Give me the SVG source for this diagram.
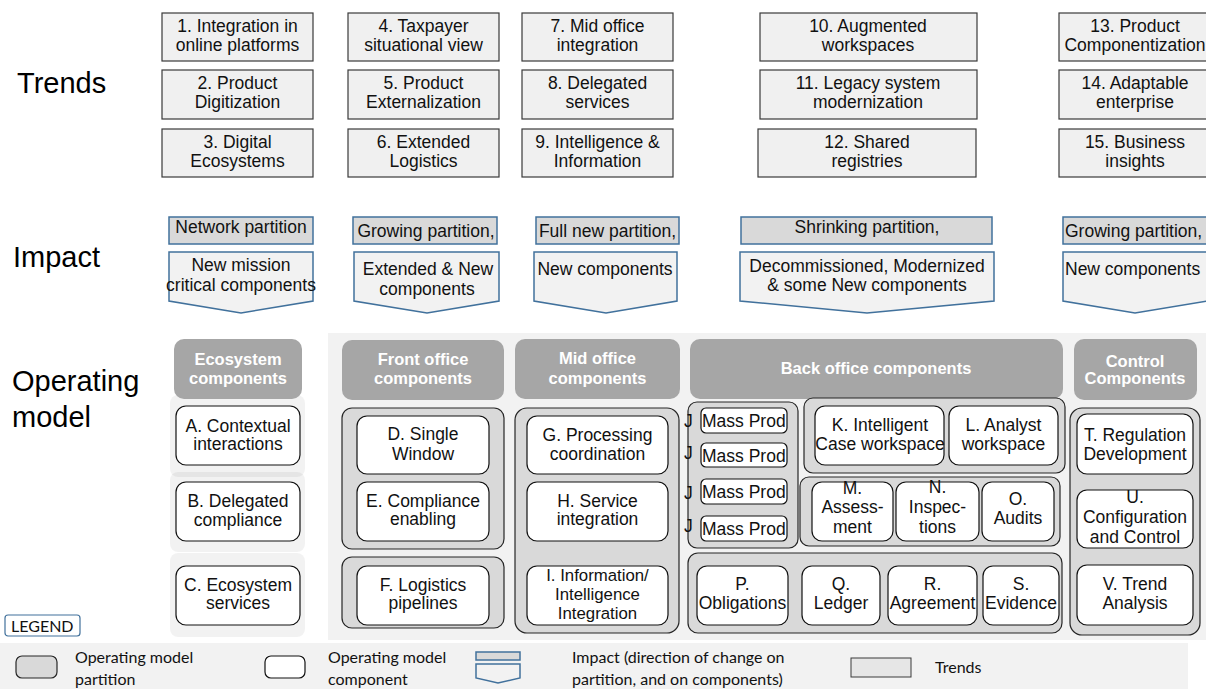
<svg xmlns="http://www.w3.org/2000/svg" width="1206" height="689" viewBox="0 0 1206 689">
<style>
text{font-family:"Liberation Sans",Arial,sans-serif;font-size:17.5px;fill:#111;text-anchor:middle}
.lbl{font-size:29px;text-anchor:start;fill:#000}
.trend{fill:#f0f0f0;stroke:#3a3a3a;stroke-width:1.2}
.imh{fill:#d9d9d9;stroke:#41719c;stroke-width:1.5}
.imp{fill:#f2f2f2;stroke:#41719c;stroke-width:1.5}
.hdr{fill:#a6a6a6}
.ht{font-weight:bold;fill:#fff;font-size:16.5px}
.part{fill:#d9d9d9;stroke:#262626;stroke-width:1.2}
.comp{fill:#fff;stroke:#111;stroke-width:1.2}
.seg{fill:#000;fill-opacity:0.05}
.lg{font-family:Lato,"Open Sans",sans-serif;font-size:16px;text-anchor:start;fill:#111}
.st{text-anchor:start}
.sm{font-size:16.8px}
</style>

<!-- section labels -->
<text class="lbl" x="17" y="93">Trends</text>
<text class="lbl" x="13" y="267">Impact</text>
<text class="lbl" x="12" y="391">Operating</text>
<text class="lbl" x="12" y="427">model</text>

<!-- backgrounds -->
<rect x="328" y="333" width="878" height="307" fill="#f2f2f2"/>
<rect class="seg" x="170" y="395" width="135" height="82" rx="8"/>
<rect class="seg" x="170" y="472" width="135" height="80" rx="8"/>
<rect class="seg" x="170" y="553" width="135" height="84" rx="8"/>
<rect x="0" y="643" width="1188" height="46" fill="#f2f2f2"/>

<!-- Trends -->
<g id="trend1"><rect class="trend" x="162" y="13" width="151" height="48"/><text x="237.5" y="32">1. Integration in</text><text x="237.5" y="51">online platforms</text></g>
<g id="trend2"><rect class="trend" x="162" y="70" width="151" height="49"/><text x="237.5" y="89">2. Product</text><text x="237.5" y="108">Digitization</text></g>
<g id="trend3"><rect class="trend" x="162" y="129" width="151" height="48"/><text x="237.5" y="148">3. Digital</text><text x="237.5" y="167">Ecosystems</text></g>
<g id="trend4"><rect class="trend" x="348" y="13" width="151" height="48"/><text x="423.5" y="32">4. Taxpayer</text><text x="423.5" y="51">situational view</text></g>
<g id="trend5"><rect class="trend" x="348" y="70" width="151" height="49"/><text x="423.5" y="89">5. Product</text><text x="423.5" y="108">Externalization</text></g>
<g id="trend6"><rect class="trend" x="348" y="129" width="151" height="48"/><text x="423.5" y="148">6. Extended</text><text x="423.5" y="167">Logistics</text></g>
<g id="trend7"><rect class="trend" x="522" y="13" width="151" height="48"/><text x="597.5" y="32">7. Mid office</text><text x="597.5" y="51">integration</text></g>
<g id="trend8"><rect class="trend" x="522" y="70" width="151" height="49"/><text x="597.5" y="89">8. Delegated</text><text x="597.5" y="108">services</text></g>
<g id="trend9"><rect class="trend" x="522" y="129" width="151" height="48"/><text x="597.5" y="148">9. Intelligence &amp;</text><text x="597.5" y="167">Information</text></g>
<g id="trend10"><rect class="trend" x="760" y="13" width="217" height="48"/><text x="868" y="32">10. Augmented</text><text x="868" y="51">workspaces</text></g>
<g id="trend11"><rect class="trend" x="760" y="70" width="217" height="49"/><text x="868" y="89">11. Legacy system</text><text x="868" y="108">modernization</text></g>
<g id="trend12"><rect class="trend" x="758" y="129" width="218" height="48"/><text x="867" y="148">12. Shared</text><text x="867" y="167">registries</text></g>
<g id="trend13"><rect class="trend" x="1059" y="13" width="152" height="48"/><text x="1135" y="32">13. Product</text><text x="1135" y="51">Componentization</text></g>
<g id="trend14"><rect class="trend" x="1059" y="70" width="152" height="49"/><text x="1135" y="89">14. Adaptable</text><text x="1135" y="108">enterprise</text></g>
<g id="trend15"><rect class="trend" x="1059" y="129" width="152" height="48"/><text x="1135" y="148">15. Business</text><text x="1135" y="167">insights</text></g>

<!-- Impact -->
<g id="impact1"><rect class="imh" x="169" y="217" width="144" height="27"/><text x="241" y="233">Network partition</text>
<path class="imp" d="M169 252H313V301L241 313L169 301Z"/><text x="241" y="271">New mission</text><text x="241" y="291">critical components</text></g>
<g id="impact2"><rect class="imh" x="353" y="217" width="144" height="27"/><text x="426" y="237">Growing partition,</text>
<path class="imp" d="M354 252H499V301L427 313L354 301Z"/><text x="428" y="275">Extended &amp; New</text><text x="427" y="295">components</text></g>
<g id="impact3"><rect class="imh" x="536" y="217" width="143" height="27"/><text x="607.5" y="237">Full new partition,</text>
<path class="imp" d="M534 252H677V301L606 313L534 301Z"/><text x="605" y="275">New components</text></g>
<g id="impact4"><rect class="imh" x="741" y="217" width="251" height="27"/><text x="867" y="233">Shrinking partition,</text>
<path class="imp" d="M740 252H994V301L867 313L740 301Z"/><text x="867" y="272">Decommissioned, Modernized</text><text x="867" y="291">&amp; some New components</text></g>
<g id="impact5"><rect class="imh" x="1063" y="217" width="148" height="27"/><text class="st" x="1065" y="237">Growing partition,</text>
<path class="imp" d="M1063 252H1207V301L1135 313L1063 301Z"/><text class="st" x="1065" y="275">New components</text></g>

<!-- Headers -->
<g id="hdr-ecosystem"><rect class="hdr" x="174" y="339" width="128" height="60" rx="10"/><text class="ht" x="238" y="365">Ecosystem</text><text class="ht" x="238" y="384">components</text></g>
<g id="hdr-front"><rect class="hdr" x="342" y="340" width="162" height="60" rx="10"/><text class="ht" x="423" y="365">Front office</text><text class="ht" x="423" y="384">components</text></g>
<g id="hdr-mid"><rect class="hdr" x="515" y="339" width="165" height="60" rx="10"/><text class="ht" x="597.5" y="364">Mid office</text><text class="ht" x="597.5" y="384">components</text></g>
<g id="hdr-back"><rect class="hdr" x="690" y="339" width="373" height="60" rx="10"/><text class="ht" x="876" y="374">Back office components</text></g>
<g id="hdr-control"><rect class="hdr" x="1074" y="339" width="123" height="61" rx="10"/><text class="ht" x="1135" y="367">Control</text><text class="ht" x="1135" y="384">Components</text></g>

<!-- Partitions -->
<g id="part-front1"><rect class="part" x="342" y="408" width="162" height="141" rx="10"/></g>
<g id="part-front2"><rect class="part" x="342" y="557" width="162" height="71" rx="10"/></g>
<g id="part-mid"><rect class="part" x="515" y="408" width="164" height="225" rx="12"/></g>
<g id="part-massprod"><rect class="part" x="688" y="402" width="110" height="146" rx="9"/></g>
<g id="part-kl"><rect class="part" x="804" y="398" width="261" height="75" rx="9"/></g>
<g id="part-mno"><rect class="part" x="800" y="477" width="260" height="69" rx="9"/></g>
<g id="part-pqrs"><rect class="part" x="688" y="553" width="374" height="80" rx="10"/></g>
<g id="part-control"><rect class="part" x="1070" y="408" width="130" height="227" rx="12"/></g>

<!-- Components -->
<g id="compA"><rect class="comp" x="176" y="406" width="124" height="59" rx="10"/><text x="238" y="432">A. Contextual</text><text x="238" y="450">interactions</text></g>
<g id="compB"><rect class="comp" x="176" y="482" width="124" height="59" rx="10"/><text x="238" y="507">B. Delegated</text><text x="238" y="526">compliance</text></g>
<g id="compC"><rect class="comp" x="176" y="566" width="124" height="59" rx="10"/><text x="238" y="591">C. Ecosystem</text><text x="238" y="609">services</text></g>
<g id="compD"><rect class="comp" x="357" y="416" width="132" height="58" rx="10"/><text x="423" y="440">D. Single</text><text x="423" y="460">Window</text></g>
<g id="compE"><rect class="comp" x="357" y="482" width="132" height="59" rx="10"/><text x="423" y="507">E. Compliance</text><text x="423" y="525">enabling</text></g>
<g id="compF"><rect class="comp" x="357" y="566" width="132" height="59" rx="10"/><text x="423" y="591">F. Logistics</text><text x="423" y="609">pipelines</text></g>
<g id="compG"><rect class="comp" x="527" y="416" width="141" height="58" rx="10"/><text x="597.5" y="441">G. Processing</text><text x="597.5" y="460">coordination</text></g>
<g id="compH"><rect class="comp" x="527" y="482" width="141" height="59" rx="10"/><text x="597.5" y="507">H. Service</text><text x="597.5" y="525">integration</text></g>
<g id="compI"><rect class="comp" x="527" y="566" width="141" height="59" rx="10"/><text class="sm" x="597.5" y="580.5">I. Information/</text><text class="sm" x="597.5" y="599.5">Intelligence</text><text class="sm" x="597.5" y="618.5">Integration</text></g>

<g id="massprod1"><rect class="comp" x="701" y="408" width="86" height="25" rx="5"/><text class="st" x="702" y="427">Mass Prod</text><text class="st" x="684" y="427">J</text></g>
<g id="massprod2"><rect class="comp" x="701" y="443" width="86" height="24" rx="5"/><text class="st" x="702" y="462">Mass Prod</text><text class="st" x="684" y="459">J</text></g>
<g id="massprod3"><rect class="comp" x="701" y="479" width="86" height="25" rx="5"/><text class="st" x="702" y="498">Mass Prod</text><text class="st" x="684" y="499">J</text></g>
<g id="massprod4"><rect class="comp" x="701" y="516" width="86" height="25" rx="5"/><text class="st" x="702" y="535">Mass Prod</text><text class="st" x="684" y="532">J</text></g>

<g id="compK"><rect class="comp" x="815" y="406" width="129" height="59" rx="10"/><text x="880" y="431">K. Intelligent</text><text x="880" y="450">Case workspace</text></g>
<g id="compL"><rect class="comp" x="949" y="406" width="109" height="59" rx="10"/><text x="1003.5" y="431">L. Analyst</text><text x="1003.5" y="450">workspace</text></g>
<g id="compM"><rect class="comp" x="812" y="482" width="81" height="59" rx="10"/><text x="852.5" y="494">M.</text><text x="852.5" y="513">Assess-</text><text x="852.5" y="533">ment</text></g>
<g id="compN"><rect class="comp" x="896" y="482" width="83" height="59" rx="10"/><text x="937.5" y="493">N.</text><text x="937.5" y="513">Inspec-</text><text x="937.5" y="533">tions</text></g>
<g id="compO"><rect class="comp" x="982" y="482" width="72" height="59" rx="10"/><text x="1018" y="505">O.</text><text x="1018" y="524">Audits</text></g>
<g id="compP"><rect class="comp" x="697" y="566" width="91" height="59" rx="10"/><text x="742.5" y="590">P.</text><text x="742.5" y="609">Obligations</text></g>
<g id="compQ"><rect class="comp" x="802" y="566" width="78" height="59" rx="10"/><text x="841" y="590">Q.</text><text x="841" y="609">Ledger</text></g>
<g id="compR"><rect class="comp" x="888" y="566" width="89" height="59" rx="10"/><text x="932.5" y="590">R.</text><text x="932.5" y="609">Agreement</text></g>
<g id="compS"><rect class="comp" x="983" y="566" width="76" height="59" rx="10"/><text x="1021" y="590">S.</text><text x="1021" y="609">Evidence</text></g>
<g id="compT"><rect class="comp" x="1077" y="414" width="116" height="60" rx="10"/><text x="1135" y="441">T. Regulation</text><text x="1135" y="460">Development</text></g>
<g id="compU"><rect class="comp" x="1077" y="490" width="116" height="58" rx="10"/><text x="1135" y="503">U.</text><text x="1135" y="523">Configuration</text><text x="1135" y="543">and Control</text></g>
<g id="compV"><rect class="comp" x="1077" y="565" width="116" height="60" rx="10"/><text x="1135" y="590">V. Trend</text><text x="1135" y="609">Analysis</text></g>

<g id="connectors"></g>

<!-- Legend -->
<g id="legend">
<rect x="5" y="615" width="75" height="21" rx="3" fill="#fff" stroke="#41719c" stroke-width="1.2"/>
<text class="lg" x="11" y="632">LEGEND</text>
<rect class="part" x="16" y="656" width="41" height="22" rx="6"/>
<text class="lg" x="75" y="663">Operating model</text><text class="lg" x="75" y="685">partition</text>
<rect class="comp" x="265" y="656" width="40" height="22" rx="6"/>
<text class="lg" x="328" y="663">Operating model</text><text class="lg" x="328" y="685">component</text>
<rect class="imh" x="476" y="652" width="44" height="8"/>
<path class="imp" d="M476 664H520V678L498 683L476 678Z"/>
<text class="lg" x="572" y="663">Impact (direction of change on</text><text class="lg" x="572" y="685">partition, and on components)</text>
<rect x="851" y="658" width="60" height="19" fill="#e6e6e6" stroke="#3a3a3a" stroke-width="1"/>
<text class="lg" x="935" y="673">Trends</text>
</g>
</svg>
